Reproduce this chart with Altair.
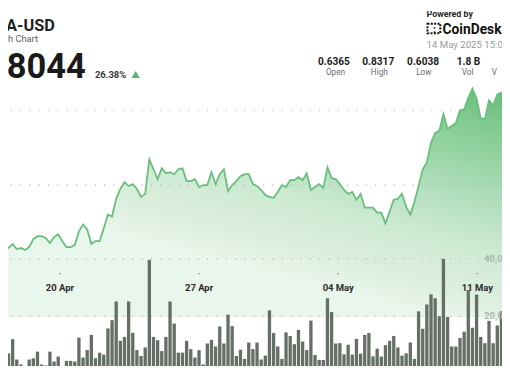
import altair as alt
import pandas as pd

# ---------------- data ----------------
price = [0.6158, 0.6171, 0.6158, 0.6211, 0.6145, 0.6158, 0.6132, 0.6171, 0.6276, 0.6316,
         0.6316, 0.6289, 0.6224, 0.6303, 0.6342, 0.6250, 0.6171, 0.6171, 0.6197, 0.6382,
         0.6474, 0.6408, 0.6211, 0.6250, 0.6250, 0.6421, 0.6605, 0.6579, 0.6816, 0.6947,
         0.7039, 0.6987, 0.7013, 0.6947, 0.6842, 0.6882, 0.7342, 0.7211, 0.7079, 0.7224,
         0.7158, 0.7171, 0.7145, 0.7211, 0.7224, 0.7053, 0.7053, 0.7079, 0.6974, 0.7000,
         0.7000, 0.7171, 0.7013, 0.7145, 0.7211, 0.6921, 0.7000, 0.7053, 0.7118, 0.7145,
         0.7145, 0.7013, 0.6987, 0.6934, 0.6868, 0.6842, 0.6829, 0.6908, 0.7000, 0.6974,
         0.7066, 0.7066, 0.7105, 0.7066, 0.7158, 0.6934, 0.6974, 0.7013, 0.6961, 0.7237,
         0.7092, 0.7079, 0.7013, 0.6934, 0.6882, 0.6908, 0.6803, 0.6882, 0.6697, 0.6697,
         0.6697, 0.6632, 0.6632, 0.6487, 0.6645, 0.6803, 0.6816, 0.6882, 0.6711, 0.6605,
         0.6776, 0.6987, 0.7211, 0.7303, 0.7566, 0.7697, 0.7724, 0.7947, 0.7750, 0.7789,
         0.7829, 0.8000, 0.8013, 0.8171, 0.8289, 0.8158, 0.7895, 0.7882, 0.8132, 0.8066,
         0.8211, 0.8237, 0.8224]

volume = [3739, 4768, 7066, 11971, 4905, 3190, 1578, 4905, 5351, 7649,
          3190, 2847, 7649, 4219, 5934, 2264, 4425, 4425, 4219, 12554,
          5591, 8198, 13480, 5351, 7306, 6620, 15744, 18625, 25142, 11422,
          12794, 25142, 14269, 8198, 6140, 9124, 39651, 12794, 11628, 7855,
          12794, 25142, 17459, 7306, 7306, 11422, 8541, 5591, 8198, 3190,
          10496, 11765, 9467, 16430, 10496, 20546, 16567, 6140, 8335, 5111,
          10839, 8541, 10839, 4905, 6277, 22055, 14166, 9467, 5111, 14372,
          13137, 10256, 15195, 11182, 8198, 18488, 6483, 4768, 4768, 26274,
          21472, 10496, 10599, 6723, 10050, 6620, 12108, 6963, 13480, 14166,
          6037, 8678, 5934, 9913, 11422, 13137, 9124, 6277, 7066, 10839,
          5111, 21712, 15641, 24113, 27646, 26274, 19997, 39994, 19757, 9467,
          9467, 12451, 14612, 29121, 15984, 27543, 12794, 10599, 18385, 10599,
          16773, 21712, 20000]

date_ticks = ["2025-04-20T00:00:00", "2025-04-27T00:00:00",
              "2025-05-04T00:00:00", "2025-05-11T00:00:00"]
date_tick_labels = ["20 Apr", "27 Apr", "04 May", "11 May"]

price_grid = [0.70, 0.80]
price_floor = 0.5237          # bottom edge of the price panel
volume_grid = [20000, 40000]
volume_grid_labels = ["20,000", "40,000"]

pair_name = "ADA-USD"
chart_kind = "Month Chart"
last_price = "0.8044"
change_pct = "26.38%"
powered_by = "Powered by"
brand = "CoinDesk"
timestamp = "14 May 2025 15:01"
stat_values = ["0.6365", "0.8317", "0.6038", "1.8 B"]
stat_labels = ["Open", "High", "Low", "Vol", "V"]

# ---------------- layout ----------------
W, H = 502, 361
OFF = 8  # page margin: chart pixel = screenshot pixel - 8


def X(v):
    return v - OFF


def Y(v):
    return v - OFF


FONT = "Roboto"

times = pd.date_range("2025-04-17 00:00", periods=len(price), freq="5h")
df = pd.DataFrame({"t": times, "price": price, "volume": volume})
df["t0"] = df["t"] - pd.Timedelta(hours=2)
df["t1"] = df["t"] + pd.Timedelta(hours=2)

xscale = alt.Scale(domain=[alt.DateTime(year=2025, month=4, date=17, hours=9, minutes=24),
                           alt.DateTime(year=2025, month=5, date=12, hours=5, minutes=41)])
pscale = alt.Scale(domain=[0.70, 0.80], range=[Y(185), Y(109)], zero=False, nice=False)
vscale = alt.Scale(domain=[0, 40000], range=[Y(376.6), Y(260)], zero=True, nice=False)

grad = alt.Gradient(
    gradient="linear",
    stops=[alt.GradientStop(color="#66bc79", offset=0),
           alt.GradientStop(color="#8ccf99", offset=0.24),
           alt.GradientStop(color="#b0debb", offset=0.48),
           alt.GradientStop(color="#cdead2", offset=0.68),
           alt.GradientStop(color="#dceede", offset=0.87),
           alt.GradientStop(color="#e9f6eb", offset=1)],
    x1=1, y1=0, x2=0.541, y2=0.806)

base = alt.Chart(df)

area = base.mark_area(color=grad, clip=True).encode(
    x=alt.X("t:T", scale=xscale, axis=None),
    y=alt.Y("price:Q", scale=pscale, axis=None, stack=None),
    y2=alt.datum(price_floor),
)

price_rules = alt.Chart(pd.DataFrame({"v": price_grid})).mark_rule(
    color="#b5b5b5", strokeWidth=1.2, strokeDash=[1.2, 8.3]
).encode(y=alt.Y("v:Q", scale=pscale, axis=None), x=alt.value(X(10.6)), x2=alt.value(W))

line = base.mark_line(color="#68bf7b", strokeWidth=1.8, clip=True).encode(
    x=alt.X("t:T", scale=xscale, axis=None),
    y=alt.Y("price:Q", scale=pscale, axis=None),
)

vol_rules = alt.Chart(pd.DataFrame({"v": volume_grid})).mark_rule(
    color="#b5b5b5", strokeWidth=1.2, strokeDash=[1.2, 8.3]
).encode(y=alt.Y("v:Q", scale=vscale, axis=None), x=alt.value(X(10.6)), x2=alt.value(X(487)))

bars = base.mark_bar(color="#666f65", clip=True).encode(
    x=alt.X("t0:T", scale=xscale, axis=None),
    x2="t1:T",
    y=alt.Y("volume:Q", scale=vscale, axis=None),
    y2=alt.datum(0),
)

vol_labels = alt.Chart(pd.DataFrame({"v": volume_grid, "lab": volume_grid_labels})).mark_text(
    align="left", baseline="middle", font=FONT, fontSize=9.4, fontWeight="bold",
    color="#abb4ab", clip=True
).encode(y=alt.Y("v:Q", scale=vscale, axis=None), x=alt.value(X(492)), text="lab:N")

dates_df = pd.DataFrame({"d": date_ticks, "lab": date_tick_labels})
tick_dots = alt.Chart(dates_df).mark_circle(size=3, color="#9a9a9a", opacity=1).encode(
    x=alt.X("d:T", scale=xscale, axis=None), y=alt.value(Y(275)))
date_labels = alt.Chart(dates_df).mark_text(
    font=FONT, fontSize=9.6, fontWeight="bold", color="#2b2b2b",
    baseline="alphabetic", align="center", clip=True
).encode(x=alt.X("d:T", scale=xscale, axis=None), y=alt.value(Y(292.7)), text="lab:N")


def label(text, x, y, size, color, weight="normal", align="left"):
    return alt.Chart(pd.DataFrame({"s": [text]})).mark_text(
        font=FONT, fontSize=size, fontWeight=weight, color=color,
        align=align, baseline="alphabetic", clip=True
    ).encode(text="s:N", x=alt.value(X(x)), y=alt.value(Y(y)))


# the left header block is nudged 8px right so the page margin does not hide it
LEFT = 8
header = [
    label(pair_name, 47.7 + LEFT, 28.3, 16.6, "#1e1e1e", "bold", "right"),
    label(chart_kind, 30.5 + LEFT, 39.8, 9.4, "#5c5c5c", "normal", "right"),
    label(last_price, 79 + LEFT, 75.8, 35, "#1a1a1a", "bold", "right"),
    label(change_pct, 88.3 + LEFT, 76, 9.6, "#3a3a3a", "bold"),
    label(powered_by, 433.3, 14, 9, "#2a2a2a", "bold"),
    label(brand, 449.6, 31.6, 14, "#111111", "bold"),
    label(timestamp, 433.3, 46, 9.8, "#9a9a9a"),
]

stat_value_x = [339.2, 384.2, 429.8, 476]
stat_label_x = [340.8, 385.3, 430.5, 475]
for s, x in zip(stat_values, stat_value_x):
    header.append(label(s, x, 62.7, 10.3, "#222222", "bold", "center"))
for s, x in zip(stat_labels[:4], stat_label_x):
    header.append(label(s, x, 73.4, 8.3, "#6b6b6b", "normal", "center"))
header.append(label(stat_labels[4], 499.5, 73.4, 8.3, "#6b6b6b", "normal", "left"))

triangle = alt.Chart(pd.DataFrame({"a": [0]})).mark_point(
    shape="triangle-up", filled=True, size=70, color="#57b868", opacity=1
).encode(x=alt.value(X(129.7 + LEFT)), y=alt.value(Y(72.6)))

logo_box = alt.Chart(pd.DataFrame({"a": [0]})).mark_rect(
    fill="white", stroke="#111111", strokeWidth=2, strokeDash=[2, 1.4]
).encode(x=alt.value(X(434.3)), x2=alt.value(X(447.3)),
         y=alt.value(Y(21)), y2=alt.value(Y(30.7)))
logo_mark = label(":", 441.5, 30, 11, "#111111", "bold", "center")

chart = alt.layer(
    area, price_rules, line, vol_rules, bars, vol_labels, tick_dots, date_labels,
    triangle, logo_box, logo_mark, *header
).resolve_scale(y="independent").properties(
    width=W, height=H, padding=0,
    autosize=alt.AutoSizeParams(type="none"),
    background="white",
).configure_view(strokeWidth=0)

chart.save("out.html", embed_options={"renderer": "svg", "actions": False})
